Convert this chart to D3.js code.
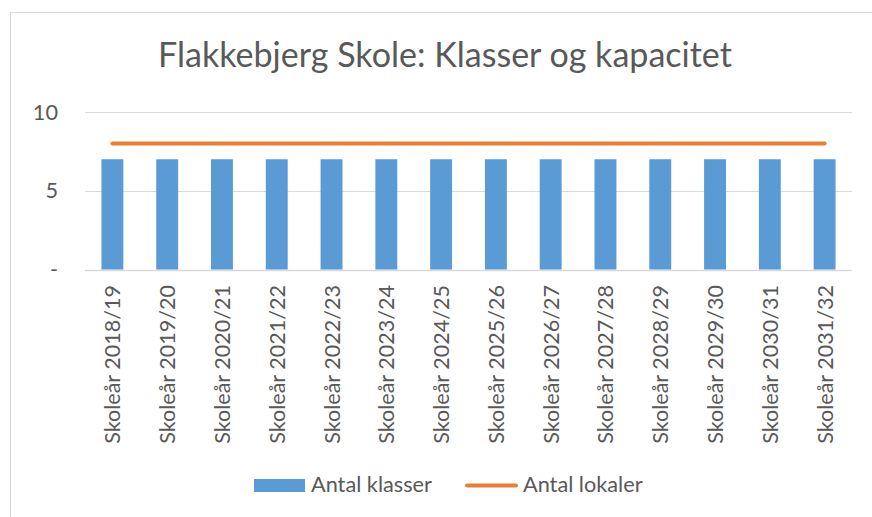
<!DOCTYPE html>
<html>
<head>
<meta charset="utf-8">
<script src="https://cdn.jsdelivr.net/npm/d3@7"></script>
<style>
  body { margin: 0; background: #fff; }
  text { font-family: Lato, "Open Sans", sans-serif; fill: #595959; }
</style>
</head>
<body>
<div id="chart"></div>
<script>
// chart data
var years = ["Skoleår 2018/19", "Skoleår 2019/20", "Skoleår 2020/21", "Skoleår 2021/22",
  "Skoleår 2022/23", "Skoleår 2023/24", "Skoleår 2024/25", "Skoleår 2025/26",
  "Skoleår 2026/27", "Skoleår 2027/28", "Skoleår 2028/29", "Skoleår 2029/30",
  "Skoleår 2030/31", "Skoleår 2031/32"];
var klasser = [7, 7, 7, 7, 7, 7, 7, 7, 7, 7, 7, 7, 7, 7];
var lokaler = [8, 8, 8, 8, 8, 8, 8, 8, 8, 8, 8, 8, 8, 8];
var yTicks = [0, 5, 10];
var yTickLabels = ["-", "5", "10"];
var seriesNames = ["Antal klasser", "Antal lokaler"];
var titleText = "Flakkebjerg Skole: Klasser og kapacitet";

var width = 872, height = 517;
var blue = "#5b9bd5", orange = "#ed7d31";

var svg = d3.select("#chart").append("svg")
  .attr("width", width)
  .attr("height", height);

// outer chart border (only top/left visible in the crop)
svg.append("rect")
  .attr("x", 10.5).attr("y", 12.5)
  .attr("width", width).attr("height", height)
  .attr("fill", "none")
  .attr("stroke", "#d9d9d9");

// font size that makes a text span a given width
function fitSize(str, base, target) {
  var t = svg.append("text").attr("font-size", base).text(str);
  var w = t.node().getComputedTextLength();
  t.remove();
  return base * target / w;
}

var titleSize = fitSize(titleText, 30, 574);
var labelSize = fitSize(years[0], 19, 159);
var legendSize = fitSize(seriesNames[0], 19, 121);

svg.append("text")
  .attr("x", 445).attr("y", 67)
  .attr("text-anchor", "middle")
  .attr("font-size", titleSize)
  .text(titleText);

var x = d3.scaleBand()
  .domain(years)
  .range([85, 852])
  .paddingInner(0.6)
  .paddingOuter(0.3);

var y = d3.scaleLinear()
  .domain([0, 10])
  .range([269.5, 112]);

// gridlines
svg.append("g")
  .selectAll("line")
  .data(yTicks)
  .enter().append("line")
  .attr("x1", 85).attr("x2", 852)
  .attr("y1", function(d){ return Math.round(y(d)) + 0.5; })
  .attr("y2", function(d){ return Math.round(y(d)) + 0.5; })
  .attr("stroke", "#d9d9d9")
  .attr("stroke-width", function(d){ return d == 0 ? 1.5 : 1; });

// y tick labels
svg.append("g")
  .selectAll("text")
  .data(yTicks)
  .enter().append("text")
  .attr("x", 58)
  .attr("y", function(d){ return y(d); })
  .attr("dy", "0.35em")
  .attr("text-anchor", "end")
  .attr("font-size", legendSize)
  .text(function(d, i){ return yTickLabels[i]; });

// bars
svg.append("g")
  .selectAll("rect")
  .data(klasser)
  .enter().append("rect")
  .attr("x", function(d, i){ return x(years[i]); })
  .attr("y", function(d){ return y(d); })
  .attr("width", x.bandwidth())
  .attr("height", function(d){ return y(0) - y(d); })
  .attr("fill", blue);

// line
var line = d3.line()
  .x(function(d, i){ return x(years[i]) + x.bandwidth() / 2; })
  .y(function(d){ return y(d); });

svg.append("path")
  .datum(lokaler)
  .attr("d", line)
  .attr("fill", "none")
  .attr("stroke", orange)
  .attr("stroke-width", 4)
  .attr("stroke-linecap", "round");

// x labels (rotated)
svg.append("g")
  .selectAll("text")
  .data(years)
  .enter().append("text")
  .attr("transform", function(d){
    return "translate(" + (x(d) + x.bandwidth() / 2 + 8) + ",285) rotate(-90)";
  })
  .attr("text-anchor", "end")
  .attr("font-size", labelSize)
  .text(function(d){ return d; });

// legend
var legend = svg.append("g");
legend.append("rect")
  .attr("x", 254).attr("y", 479)
  .attr("width", 51).attr("height", 13)
  .attr("fill", blue);
legend.append("text")
  .attr("x", 311).attr("y", 492)
  .attr("font-size", legendSize)
  .text(seriesNames[0]);
legend.append("line")
  .attr("x1", 467).attr("x2", 516)
  .attr("y1", 485.5).attr("y2", 485.5)
  .attr("stroke", orange)
  .attr("stroke-width", 4)
  .attr("stroke-linecap", "round");
legend.append("text")
  .attr("x", 523).attr("y", 492)
  .attr("font-size", legendSize)
  .text(seriesNames[1]);
</script>
</body>
</html>
